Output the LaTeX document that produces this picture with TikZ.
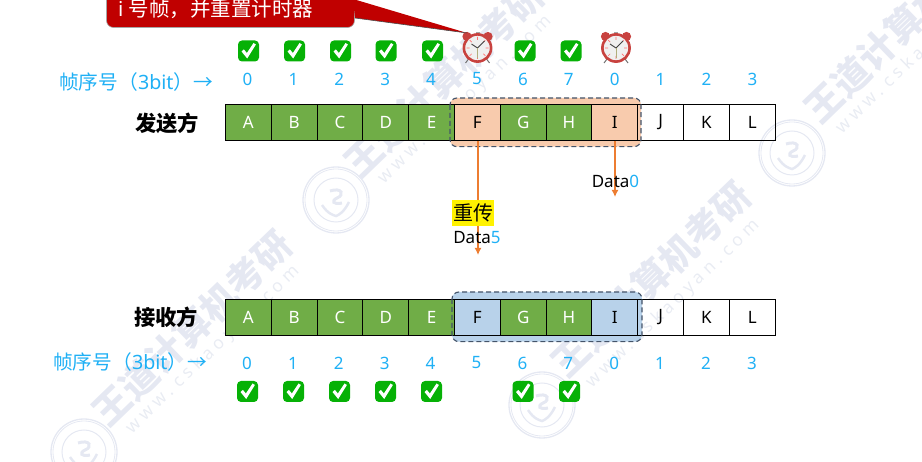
\documentclass[tikz,border=0pt]{standalone}
\usetikzlibrary{arrows.meta}
\usepackage{fontspec}
\setmainfont{Noto Sans}
\newfontfamily\cjk{Noto Sans CJK SC}
\definecolor{skyb}{HTML}{1FB0F5}
\definecolor{leaf}{HTML}{70AD47}
\definecolor{peach}{HTML}{F8CBAD}
\definecolor{paleb}{HTML}{B8D2EA}
\definecolor{dashb}{HTML}{44546A}
\definecolor{oran}{HTML}{ED7D31}
\definecolor{wred}{HTML}{C00000}
\definecolor{wm}{HTML}{E5E8F2}
\definecolor{wmt}{HTML}{E9ECF3}
\definecolor{okg}{HTML}{06B106}
\definecolor{bell}{HTML}{C8423F}
\tikzset{
 x=1pt,y=-1pt,
 cellbox/.style={draw=black,line width=0.9pt,minimum width=45.8pt,minimum height=36pt,inner sep=0pt,font=\fontsize{17}{17}\selectfont,text=black},
 green cell/.style={cellbox,fill=leaf,text=white},
 peach cell/.style={cellbox,fill=peach},
 blue cell/.style={cellbox,fill=paleb},
 digit/.style={inner sep=0pt,text=skyb,font=\fontsize{17}{17}\selectfont},
 side/.style={inner sep=0pt,font=\fontsize{21.3}{21}\cjk\bfseries\selectfont},
 seq/.style={inner sep=0pt,anchor=west,text=skyb,font=\fontsize{19.7}{20}\selectfont},
 win/.style={draw=dashb,line width=1.1pt,dash pattern=on 5pt off 3pt,rounded corners=7pt},
 flow/.style={draw=oran,line width=1.6pt,-{Latex[length=7pt,width=7pt]}},
 mark text/.style={inner sep=0pt,font=\fontsize{17}{17}\selectfont},
 wmark/.style={inner sep=0pt,text=wm,rotate=44,font=\fontsize{37}{37}\cjk\bfseries\selectfont},
 wurl/.style={inner sep=0pt,text=wmt,rotate=44,font=\fontsize{17.5}{18}\selectfont},
 chk/.pic={
  \fill[okg,rounded corners=4pt] (-10.5,-10.5) rectangle (10.5,10.5);
  \fill[white] (-7,0.5) -- (-4.6,-1.6) -- (-1.6,2) -- (5,-8) -- (7.4,-6.5) -- (-1.3,7.5) -- cycle;
 },
 clk/.pic={
  \draw[black!55,line width=1pt] (-9,11) -- (-12,15) (9,11) -- (12,15);
  \fill[bell] (-10.5,-11.5) circle (4.6pt) (10.5,-11.5) circle (4.6pt);
  \fill[gray!70] (-2,-16) rectangle (2,-14);
  \filldraw[fill=gray!12,draw=bell,line width=2.6pt] (0,0) circle (13.6pt);
  \draw[red!55,line width=.7pt] (0,-11)--(0,-8) (0,11)--(0,8) (-11,0)--(-8,0) (11,0)--(8,0)
    (-7.8,-7.8)--(-5.8,-5.8) (7.8,-7.8)--(5.8,-5.8) (-7.8,7.8)--(-5.8,5.8) (7.8,7.8)--(5.8,5.8);
  \draw[black!75,line width=.9pt] (0,0) -- (-6,-4) (0,0) -- (7,-7);
  \draw[gray!70!yellow,line width=.5pt] (0,0) -- (0,10);
 },
 seal/.pic={
  \draw[wm,line width=1.3pt] (0,0) circle (33pt);
  \draw[wm,line width=.8pt] (0,0) circle (31pt);
  \draw[wm,line width=1pt] (0,0) circle (22pt);
  \draw[wm,line width=3pt] (-6,-9) .. controls (6,-13) and (9,-5) .. (1,-2) .. controls (-5,1) and (-3,5) .. (6,3);
  \draw[wm,line width=2.5pt] (-14,5) .. controls (-8,14) and (-3,15) .. (0,16) .. controls (3,15) and (8,12) .. (13,2);
 },
}
\begin{document}
\begin{tikzpicture}
\clip (0,0) rectangle (922,462);
% watermark
\node[wmark] (w1) at (192,328) {王道计算机考研};
\node[wmark] (w2) at (444,79) {王道计算机考研};
\node[wmark] (w3) at (651,279) {王道计算机考研};
\node[wmark] (w4) at (904,25) {王道计算机考研};
\node[wurl] (u1) at (213,350) {w w w . c s k a o y a n . c o m};
\node[wurl] (u2) at (465,100) {w w w . c s k a o y a n . c o m};
\node[wurl] (u3) at (673,304) {w w w . c s k a o y a n . c o m};
\node[wurl] (u4) at (923,50) {w w w . c s k a o y a n . c o m};
\pic at (336,200) {seal};
\pic at (84,452) {seal};
\pic at (792,153) {seal};
\pic at (542,405) {seal};
% windows (fill behind the cells)
\fill[peach,rounded corners=7pt] (450,98) rectangle (641,146.7);
\fill[paleb,rounded corners=7pt] (452,292) rectangle (642,341.7);
% cells
\foreach \i/\t/\sty/\ss in {0/A/green cell/green cell,1/B/green cell/green cell,2/C/green cell/green cell,3/D/green cell/green cell,4/E/green cell/green cell,5/F/peach cell/blue cell,6/G/green cell/green cell,7/H/green cell/green cell,8/I/peach cell/blue cell,9/J/cellbox/cellbox,10/K/cellbox/cellbox,11/L/cellbox/cellbox}{
 \node[\sty] (s\i) at ({248.4+\i*45.8},122.3) {\t};
 \node[\ss] (r\i) at ({248.4+\i*45.8},317) {\t};
}
\draw[win] (450,98) rectangle (641,146.7);
\draw[win] (452,292) rectangle (642,341.7);
% sequence numbers
\foreach \i/\d in {0/0,1/1,2/2,3/3,4/4,5/5,6/6,7/7,8/0,9/1,10/2,11/3}{
 \node[digit] (sd\i) at ({247.5+\i*45.9},79) {\d};
 \node[digit] (rd\i) at ({247+\i*45.9},363) {\d};
}
\node[seq] (sl) at (59,82) {{\cjk 帧序号（}3bit{\cjk ）→}};
\node[seq] (rl) at (53,362) {{\cjk 帧序号（}3bit{\cjk ）→}};
\node[side] (sn) at (167,123.5) {发送方};
\node[side] (rn) at (166,317) {接收方};
% check marks and clocks
\foreach \x in {248.5,294.5,340.5,386,432.5,525,571} \pic at (\x,51) {chk};
\foreach \x in {247.5,293.5,339.5,385.5,431.5,523,569.5} \pic at (\x,391.5) {chk};
\pic at (477.5,48) {clk};
\pic at (616,48) {clk};
% callout
\coordinate (tip) at (467,33);
\fill[wred,draw=gray!70,line width=.6pt,rounded corners=7pt] (106.5,-20) -- (106.5,27.5) -- (354.5,27.5) -- (354.5,-20) -- cycle;
\fill[wred] (353,-1) -- (tip) -- (355,18) -- cycle;
\draw[gray!60!black,line width=.6pt] (355,18) -- (tip);
\node[inner sep=0pt,anchor=west,text=white,font=\fontsize{20.5}{21}\selectfont] (call) at (118,9) {i {\cjk 号帧，并重置计时器}};
% arrows and labels
\coordinate (e0) at (478,255);
\coordinate (e1) at (615,197);
\draw[flow] (s5.south -| e0) -- (e0);
\draw[flow] (s8.south -| e1) -- (e1);
\node[inner sep=0pt,fill=yellow,minimum width=42pt,minimum height=26pt,font=\fontsize{20}{20}\cjk\selectfont] (re) at (473,213) {重传};
\node[mark text] (d5) at (477,238) {Data\textcolor{skyb}{5}};
\node[mark text] (d0) at (615.5,181) {Data\textcolor{skyb}{0}};
\end{tikzpicture}
\end{document}
